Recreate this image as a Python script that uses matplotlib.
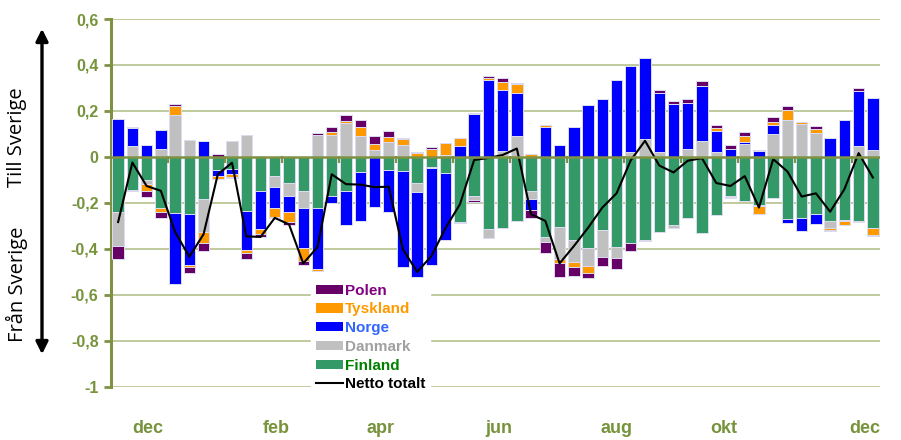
import numpy as np
import matplotlib
matplotlib.use("Agg")
import matplotlib.pyplot as plt
from matplotlib.patches import Patch
from matplotlib.lines import Line2D

# ---------------- data (TWh per week, signed: + till Sverige, - från Sverige)
finland = [-0.240, -0.144, -0.100, -0.221, -0.243, -0.248, -0.182, -0.058, -0.051, -0.236,
           -0.148, -0.083, -0.115, -0.148, -0.224, -0.169, -0.151, -0.066, 0.000, -0.058,
           -0.060, -0.112, -0.044, -0.070, -0.285, -0.170, -0.315, -0.311, -0.279, -0.148,
           -0.349, -0.306, -0.361, -0.397, -0.317, -0.392, -0.377, -0.361, -0.328, -0.297,
           -0.265, -0.333, -0.253, -0.169, -0.192, -0.210, -0.180, -0.269, -0.266, -0.248,
           -0.279, -0.275, -0.279, -0.310]
danmark = [-0.150, 0.047, -0.017, 0.035, 0.183, 0.073, -0.144, 0.000, 0.067, 0.097,
           0.003, -0.047, -0.054, -0.076, 0.096, 0.097, 0.147, 0.090, 0.029, 0.066,
           0.052, -0.041, -0.006, 0.009, 0.000, -0.019, -0.038, 0.025, 0.090, -0.035,
           -0.022, -0.138, -0.099, -0.078, -0.120, -0.049, 0.023, 0.076, 0.023, -0.013,
           0.035, 0.069, 0.019, -0.004, 0.055, -0.004, 0.099, 0.162, 0.141, 0.102,
           -0.030, -0.005, 0.047, 0.029]
norge = [0.166, 0.077, 0.051, 0.082, -0.312, -0.224, 0.067, -0.026, -0.022, -0.171,
         -0.166, -0.091, -0.073, -0.172, -0.265, -0.033, -0.147, -0.213, -0.217, -0.181,
         -0.420, -0.371, -0.423, -0.291, 0.045, 0.186, 0.335, 0.266, 0.187, -0.048,
         0.131, 0.052, 0.128, 0.227, 0.253, 0.336, 0.373, 0.356, 0.254, 0.230,
         0.201, 0.240, 0.095, 0.035, 0.009, 0.025, 0.038, -0.018, -0.057, -0.043,
         0.084, 0.160, 0.238, 0.226]
tyskland = [0.000, 0.006, -0.033, -0.018, 0.038, -0.007, -0.051, -0.011, -0.014, -0.011,
            -0.021, -0.041, -0.042, -0.058, -0.006, 0.011, 0.010, 0.041, 0.028, 0.021,
            0.024, 0.015, 0.035, 0.049, 0.037, 0.003, 0.007, 0.035, 0.040, 0.012,
            0.007, -0.017, -0.019, -0.030, 0.000, 0.000, 0.000, 0.000, 0.000, 0.000,
            0.000, 0.000, 0.011, -0.007, 0.026, -0.036, 0.013, 0.040, 0.012, 0.019,
            -0.008, -0.016, -0.006, -0.031]
polen = [-0.057, -0.007, -0.025, -0.027, 0.007, -0.028, -0.032, 0.012, -0.006, -0.026,
         -0.014, -0.006, -0.012, -0.015, 0.009, 0.020, 0.023, 0.031, 0.033, 0.027,
         0.007, 0.007, 0.009, 0.000, -0.005, -0.009, 0.012, 0.015, 0.006, -0.037,
         -0.047, -0.062, -0.039, -0.023, -0.040, -0.048, -0.033, -0.005, 0.014, 0.015,
         0.014, 0.020, 0.015, 0.015, 0.020, 0.006, 0.022, 0.018, 0.000, 0.011,
         -0.006, 0.000, 0.015, -0.003]
netto = [-0.284, -0.025, -0.127, -0.148, -0.327, -0.435, -0.337, -0.076, -0.026, -0.346,
         -0.349, -0.266, -0.294, -0.464, -0.393, -0.076, -0.119, -0.121, -0.132, -0.130,
         -0.403, -0.501, -0.432, -0.309, -0.207, -0.014, -0.005, 0.008, 0.036, -0.250,
         -0.279, -0.464, -0.389, -0.309, -0.221, -0.159, -0.015, 0.070, -0.038, -0.068,
         -0.017, -0.006, -0.114, -0.127, -0.084, -0.221, -0.010, -0.064, -0.173, -0.159,
         -0.239, -0.141, 0.016, -0.090]

month_labels = ["dec", "feb", "apr", "jun", "aug", "okt", "dec"]
month_pos = [2.1, 11.1, 18.4, 26.7, 35.0, 42.5, 52.45]
ytick_vals = [0.6, 0.4, 0.2, 0.0, -0.2, -0.4, -0.6, -0.8, -1.0]
ytick_labels = ["0,6", "0,4", "0,2", "0", "-0,2", "-0,4", "-0,6", "-0,8", "-1"]

series = [("Finland", finland, "#339966", "#008000"),
          ("Danmark", danmark, "#C0C0C0", "#A0A0A0"),
          ("Norge", norge, "#0000FF", "#3366FF"),
          ("Tyskland", tyskland, "#FF9900", "#FF9900"),
          ("Polen", polen, "#660066", "#800080")]

# ---------------- figure
plt.rcParams['font.family'] = ['Liberation Sans', 'DejaVu Sans']
fig = plt.figure(figsize=(9.01, 4.40), dpi=100)
ax = fig.add_axes([111 / 901, 1 - 386.5 / 440, (880 - 111) / 901, (386.5 - 19) / 440])

n = len(finland)
x = np.arange(n)
pos_bottom = np.zeros(n)
neg_bottom = np.zeros(n)
olive = "#77933C"
grid_c = "#B5C18E"

for name, vals, col, _ in series:
    v = np.array(vals)
    p = np.where(v > 0, v, 0.0)
    q = np.where(v < 0, v, 0.0)
    ax.bar(x, p, bottom=pos_bottom, width=0.8, color=col, edgecolor="#dcdcf0",
           linewidth=0.7, zorder=3)
    ax.bar(x, q, bottom=neg_bottom, width=0.8, color=col, edgecolor="#dcdcf0",
           linewidth=0.7, zorder=3)
    pos_bottom += p
    neg_bottom += q

ax.plot(x, netto, color="black", lw=1.5, zorder=5)

ax.set_xlim(-0.5, n - 0.5)
ax.set_ylim(-1.0, 0.6)
for yv in ytick_vals:
    if yv != 0:
        ax.axhline(yv, color=grid_c, lw=1.2, zorder=1)
ax.axhline(0, color="#7F9244", lw=1.8, zorder=6)
for b in np.arange(3.5, n - 0.5, 4):
    ax.plot([b, b], [0, -0.022], color="#7F9244", lw=1.5, zorder=6, clip_on=False)

for s in ["top", "right", "bottom"]:
    ax.spines[s].set_visible(False)
ax.spines["left"].set_color("#7F9244")
ax.spines["left"].set_linewidth(2.2)
ax.set_yticks(ytick_vals)
ax.set_yticklabels(ytick_labels)
ax.tick_params(axis="y", colors="#7F9244", length=5, width=2, labelsize=11.5, pad=4)
for t in ax.get_yticklabels():
    t.set_color(olive)
    t.set_fontweight("bold")
ax.set_xticks(month_pos)
ax.set_xticklabels(month_labels)
ax.tick_params(axis="x", length=0, pad=24, labelsize=13)
for t in ax.get_xticklabels():
    t.set_color(olive)
    t.set_fontweight("bold")

# left annotation: double arrow and texts
fig.patches.append(matplotlib.patches.FancyArrowPatch(
    (42 / 901, 1 - 357 / 440), (42 / 901, 1 - 26 / 440), transform=fig.transFigure,
    arrowstyle="<|-|>", mutation_scale=18, color="black", lw=2.4))
fig.text(17 / 901, 1 - 137 / 440, "Till Sverige", rotation=90, ha="center", va="center",
         fontsize=14.5, family=["Open Sans", "DejaVu Sans"])
fig.text(17 / 901, 1 - 284 / 440, "Från Sverige", rotation=90, ha="center", va="center",
         fontsize=14.5, family=["Open Sans", "DejaVu Sans"])

# legend
handles = [Patch(facecolor="#660066"), Patch(facecolor="#FF9900"), Patch(facecolor="#0000FF"),
           Patch(facecolor="#C0C0C0"), Patch(facecolor="#339966"),
           Line2D([0], [0], color="black", lw=1.5)]
labels = ["Polen", "Tyskland", "Norge", "Danmark", "Finland", "Netto totalt"]
text_cols = ["#800080", "#FF9900", "#3366FF", "#A0A0A0", "#008000", "black"]
leg = fig.legend(handles, labels, loc="upper left",
                 bbox_to_anchor=(311 / 901, 1 - 279 / 440), frameon=True,
                 fancybox=False, edgecolor="white", framealpha=1, fontsize=11,
                 handlelength=1.8, handleheight=0.55, handletextpad=0.1,
                 labelspacing=0.31, borderpad=0.3, borderaxespad=0)
leg.set_zorder(10)
for t, c in zip(leg.get_texts(), text_cols):
    t.set_color(c)
    t.set_fontweight("bold")

fig.savefig("out.png", dpi=100)
